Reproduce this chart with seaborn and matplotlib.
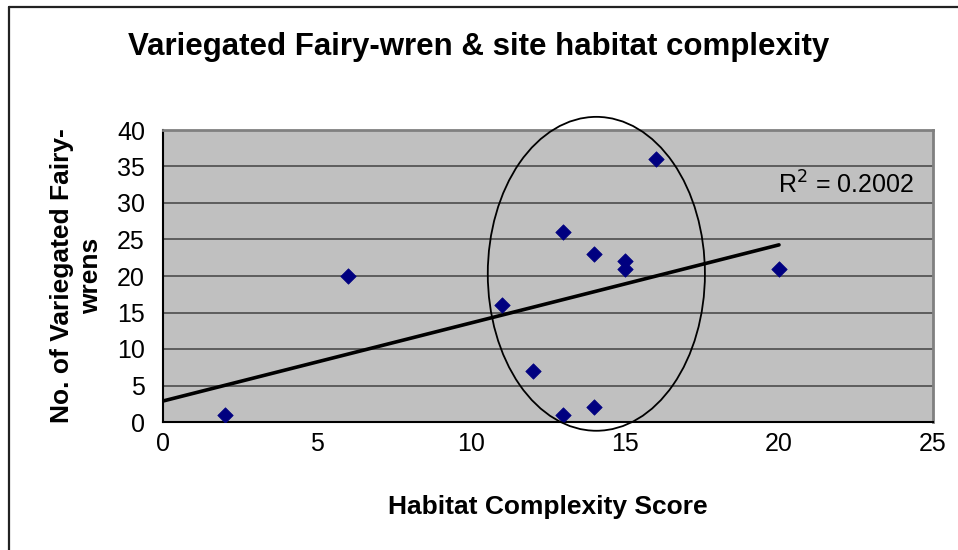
import numpy as np
import pandas as pd
import matplotlib
matplotlib.use("Agg")
import matplotlib.pyplot as plt
from matplotlib.patches import Ellipse
from matplotlib.lines import Line2D
import seaborn as sns

# Site survey data
habitat_score = [2, 6, 11, 12, 13, 13, 14, 14, 15, 15, 16, 20]
wren_count = [1, 20, 16, 7, 26, 1, 23, 2, 22, 21, 36, 21]
x_ticks = [0, 5, 10, 15, 20, 25]
y_ticks = [0, 5, 10, 15, 20, 25, 30, 35, 40]

df = pd.DataFrame({"score": habitat_score, "count": wren_count})

# Linear trend line and coefficient of determination
slope, intercept = np.polyfit(df["score"], df["count"], 1)
pred = slope * df["score"] + intercept
ss_res = ((df["count"] - pred) ** 2).sum()
ss_tot = ((df["count"] - df["count"].mean()) ** 2).sum()
r2 = 1 - ss_res / ss_tot
trend = pd.DataFrame({"score": [0, max(habitat_score)]})
trend["count"] = slope * trend["score"] + intercept

sns.set_theme(style="white")
plt.rcParams["font.family"] = ["Liberation Sans", "DejaVu Sans"]
plt.rcParams["text.color"] = "black"
plt.rcParams["axes.labelcolor"] = "black"
plt.rcParams["xtick.color"] = "black"
plt.rcParams["ytick.color"] = "black"

fig = plt.figure(figsize=(9.58, 5.5), dpi=100)
ax = fig.add_axes([163 / 958, 1 - 422 / 550, (933 - 163) / 958, (422 - 130) / 550])
ax.set_facecolor("#C0C0C0")

# Horizontal gridlines
for yv in y_ticks[1:-1]:
    ax.axhline(yv, color="#555555", lw=1.3, zorder=1)

sns.lineplot(data=trend, x="score", y="count", ax=ax, color="black", lw=2.6, zorder=3)
sns.scatterplot(data=df, x="score", y="count", ax=ax, marker="D", s=62,
                color="#000080", edgecolor="#000080", linewidth=0.5, zorder=4)

# Ring round the cluster of mid-range sites
ax.add_patch(Ellipse((14.07, 20.3), 7.05, 43.0, fill=False, ec="black", lw=1.3,
                     clip_on=False, zorder=5))

ax.set_xlim(0, 25)
ax.set_ylim(0, 40)
ax.set_xticks(x_ticks)
ax.set_yticks(y_ticks)
ax.tick_params(axis="both", direction="out", length=7, width=1.2, color="black",
               labelsize=18, labelcolor="black")
ax.tick_params(axis="y", pad=6)
ax.tick_params(axis="x", pad=0)

for side in ["left", "bottom"]:
    ax.spines[side].set_color("black")
    ax.spines[side].set_linewidth(1.5)
for side in ["top", "right"]:
    ax.spines[side].set_color("#808080")
    ax.spines[side].set_linewidth(2)
    ax.spines[side].set_visible(True)

ax.set_xlabel("Habitat Complexity Score", fontsize=19, fontweight="bold", labelpad=28)
ax.set_ylabel("No. of Variegated Fairy-\nwrens", fontsize=19, fontweight="bold",
              labelpad=10, linespacing=1.25)

ax.text(0.975, 0.81, f"R$^2$ = {r2:.4f}", transform=ax.transAxes, ha="right",
        va="center", fontsize=18, color="black")

fig.text(0.5, 1 - 47 / 550, "Variegated Fairy-wren & site habitat complexity",
         ha="center", va="center", fontsize=22.5, fontweight="bold")

# Chart frame (top and left edges)
fig.add_artist(Line2D([9 / 958, 9 / 958], [0, 1 - 7 / 550], transform=fig.transFigure,
                      color="#222222", lw=1.6))
fig.add_artist(Line2D([9 / 958, 1], [1 - 7 / 550, 1 - 7 / 550], transform=fig.transFigure,
                      color="#222222", lw=1.6))

fig.savefig("out.png", dpi=100)
